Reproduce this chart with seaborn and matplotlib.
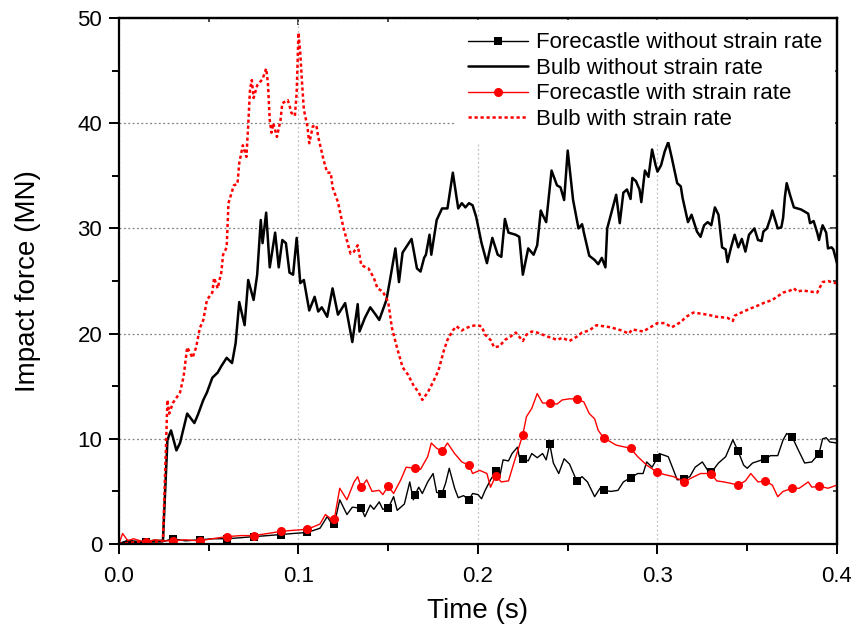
import numpy as np
import pandas as pd
import matplotlib
matplotlib.use("Agg")
import matplotlib.pyplot as plt
import seaborn as sns
from matplotlib.ticker import MultipleLocator

# --- data (time in s, force in MN) ---
# Forecastle without strain rate (black, squares every 0.015 s)
t_fw = [0.000, 0.002, 0.010, 0.015, 0.024, 0.030, 0.037, 0.045, 0.052, 0.060,
        0.068, 0.075, 0.083, 0.090, 0.097, 0.105, 0.112, 0.116, 0.119, 0.120,
        0.123, 0.127, 0.130, 0.135, 0.137, 0.140, 0.142, 0.145, 0.147, 0.150,
        0.153, 0.155, 0.159, 0.162, 0.164, 0.165, 0.167, 0.169, 0.172, 0.175,
        0.177, 0.180, 0.182, 0.184, 0.187, 0.189, 0.192, 0.195, 0.197, 0.200,
        0.202, 0.204, 0.207, 0.210, 0.212, 0.214, 0.217, 0.219, 0.222, 0.223,
        0.225, 0.228, 0.230, 0.233, 0.236, 0.238, 0.240, 0.242, 0.245, 0.248,
        0.251, 0.255, 0.258, 0.261, 0.265, 0.268, 0.270, 0.274, 0.278, 0.281,
        0.285, 0.289, 0.292, 0.294, 0.297, 0.300, 0.301, 0.306, 0.309, 0.311,
        0.315, 0.318, 0.321, 0.325, 0.328, 0.330, 0.334, 0.338, 0.342, 0.345,
        0.348, 0.350, 0.353, 0.360, 0.363, 0.367, 0.370, 0.372, 0.375, 0.378,
        0.382, 0.386, 0.390, 0.392, 0.394, 0.396, 0.400]
f_fw = [0.0, 0.1, 0.15, 0.2, 0.2, 0.5, 0.3, 0.4, 0.5, 0.5,
        0.6, 0.7, 0.8, 0.9, 1.0, 1.1, 1.5, 2.6, 1.8, 1.9,
        4.2, 2.8, 3.5, 3.4, 2.6, 3.7, 3.3, 4.0, 3.3, 3.4,
        4.5, 3.2, 3.8, 5.9, 4.2, 4.7, 5.4, 4.8, 5.9, 6.7,
        4.9, 4.8, 5.8, 7.2, 5.3, 4.4, 4.6, 4.2, 4.8, 4.7,
        4.3, 5.1, 6.1, 6.9, 6.3, 8.0, 7.9, 8.6, 9.2, 8.3,
        8.1, 7.9, 8.6, 8.2, 8.6, 8.0, 9.5, 7.7, 6.7, 8.1,
        7.6, 6.0, 6.4, 5.9, 4.5, 5.3, 5.1, 5.0, 5.1, 5.9,
        6.3, 6.7, 6.7, 7.8, 7.3, 8.2, 8.6, 8.3, 7.0, 6.1,
        6.2, 6.4, 7.3, 7.8, 7.0, 6.8, 7.7, 8.3, 9.9, 8.8,
        7.5, 7.2, 7.7, 8.1, 8.4, 8.4, 9.9, 10.5, 10.2, 9.1,
        7.7, 7.8, 8.6, 10.0, 10.1, 9.7, 9.6]

# Bulb without strain rate (black, thick)
t_bw = [0.000, 0.005, 0.010, 0.015, 0.020, 0.0245, 0.027, 0.029, 0.032, 0.034,
        0.038, 0.042, 0.044, 0.047, 0.049, 0.052, 0.055, 0.057, 0.060, 0.063,
        0.065, 0.067, 0.070, 0.072, 0.075, 0.077, 0.079, 0.080, 0.082, 0.084,
        0.087, 0.089, 0.091, 0.093, 0.095, 0.097, 0.099, 0.101, 0.103, 0.106,
        0.109, 0.111, 0.113, 0.116, 0.119, 0.122, 0.126, 0.130, 0.133, 0.134,
        0.137, 0.140, 0.143, 0.145, 0.149, 0.151, 0.154, 0.156, 0.158, 0.163,
        0.166, 0.168, 0.170, 0.171, 0.173, 0.174, 0.177, 0.180, 0.183, 0.186,
        0.189, 0.191, 0.193, 0.195, 0.197, 0.199, 0.202, 0.205, 0.208, 0.211,
        0.213, 0.215, 0.217, 0.221, 0.223, 0.225, 0.228, 0.231, 0.233, 0.235,
        0.236, 0.238, 0.241, 0.244, 0.246, 0.248, 0.250, 0.253, 0.256, 0.258,
        0.259, 0.262, 0.265, 0.267, 0.269, 0.271, 0.272, 0.277, 0.279, 0.281,
        0.283, 0.285, 0.286, 0.288, 0.290, 0.291, 0.293, 0.295, 0.297, 0.299,
        0.300, 0.302, 0.304, 0.306, 0.308, 0.311, 0.313, 0.314, 0.317, 0.319,
        0.322, 0.324, 0.326, 0.328, 0.330, 0.332, 0.334, 0.336, 0.338, 0.339,
        0.341, 0.343, 0.345, 0.347, 0.349, 0.351, 0.352, 0.354, 0.356, 0.358,
        0.359, 0.361, 0.363, 0.364, 0.367, 0.369, 0.370, 0.371, 0.372, 0.374,
        0.376, 0.378, 0.380, 0.382, 0.384, 0.385, 0.387, 0.389, 0.390, 0.392,
        0.394, 0.395, 0.397, 0.398, 0.400]
f_bw = [0.0, 0.3, 0.2, 0.2, 0.3, 0.3, 9.9, 10.8, 8.9, 9.6,
        12.4, 11.5, 12.3, 13.7, 14.4, 15.8, 16.3, 16.9, 17.7, 17.2,
        19.1, 23.0, 20.8, 25.1, 23.2, 25.6, 30.8, 28.6, 31.5, 26.3,
        29.6, 26.3, 28.9, 28.6, 25.8, 25.6, 29.1, 24.8, 25.1, 22.2,
        23.5, 22.1, 22.5, 21.6, 24.3, 21.8, 22.9, 19.2, 22.8, 20.2,
        21.5, 22.5, 21.8, 21.3, 23.2, 25.1, 28.1, 24.9, 27.7, 29.0,
        26.2, 25.9, 27.2, 27.5, 29.4, 27.5, 30.8, 31.9, 31.9, 35.3,
        31.9, 32.4, 32.0, 32.4, 32.2, 31.1, 28.6, 26.7, 29.1, 27.5,
        27.3, 30.9, 29.6, 29.4, 29.2, 25.6, 28.1, 27.5, 28.4, 31.7,
        31.3, 30.6, 35.5, 34.1, 33.9, 32.7, 37.4, 32.7, 30.0, 30.4,
        29.6, 27.4, 27.0, 26.6, 27.2, 26.3, 30.0, 33.2, 30.5, 33.4,
        33.7, 32.8, 34.8, 34.5, 33.7, 32.5, 35.5, 34.9, 37.5, 36.0,
        35.4, 36.0, 37.3, 38.2, 36.7, 34.3, 34.0, 32.9, 30.6, 31.3,
        29.7, 29.2, 30.3, 30.6, 30.3, 32.0, 31.3, 28.2, 28.0, 26.8,
        28.2, 29.4, 28.2, 29.0, 27.8, 29.4, 29.6, 30.0, 28.9, 28.8,
        29.7, 30.0, 31.0, 31.7, 30.0, 30.1, 31.0, 33.0, 34.3, 33.1,
        32.0, 31.9, 31.8, 31.6, 31.4, 30.5, 30.7, 29.6, 28.9, 30.3,
        29.6, 28.1, 28.2, 28.0, 26.7]

# Forecastle with strain rate (red, circles every 0.015 s)
t_fs = [0.000, 0.002, 0.005, 0.008, 0.012, 0.015, 0.020, 0.024, 0.030, 0.037,
        0.045, 0.052, 0.060, 0.068, 0.075, 0.083, 0.090, 0.097, 0.105, 0.112,
        0.115, 0.118, 0.120, 0.123, 0.127, 0.131, 0.133, 0.135, 0.138, 0.141,
        0.145, 0.147, 0.150, 0.153, 0.157, 0.160, 0.165, 0.168, 0.172, 0.174,
        0.177, 0.180, 0.183, 0.187, 0.191, 0.195, 0.197, 0.201, 0.205, 0.207,
        0.210, 0.213, 0.217, 0.220, 0.225, 0.227, 0.230, 0.233, 0.236, 0.240,
        0.244, 0.247, 0.251, 0.255, 0.259, 0.262, 0.265, 0.267, 0.270, 0.274,
        0.277, 0.285, 0.289, 0.294, 0.300, 0.304, 0.309, 0.315, 0.318, 0.324,
        0.330, 0.333, 0.337, 0.340, 0.345, 0.349, 0.352, 0.356, 0.360, 0.364,
        0.367, 0.370, 0.375, 0.379, 0.384, 0.386, 0.390, 0.395, 0.400]
f_fs = [0.0, 1.0, 0.3, 0.5, 0.3, 0.2, 0.4, 0.3, 0.3, 0.4,
        0.3, 0.5, 0.7, 0.8, 0.8, 1.0, 1.2, 1.3, 1.4, 1.9,
        2.8, 2.4, 2.4, 5.3, 4.2, 5.9, 6.4, 5.4, 6.1, 5.0,
        5.1, 4.7, 5.5, 4.8, 6.1, 7.3, 7.2, 7.1, 8.3, 9.6,
        9.1, 8.8, 9.6, 8.6, 7.8, 7.5, 6.7, 7.0, 6.7, 5.4,
        6.5, 5.9, 6.0, 7.7, 10.4, 12.1, 12.9, 14.3, 13.4, 13.4,
        13.3, 13.7, 13.8, 13.8, 13.5, 12.4, 11.9, 10.8, 10.1, 9.7,
        9.4, 9.1, 8.3, 7.5, 6.8, 6.6, 6.4, 5.9, 6.2, 6.7,
        6.7, 6.0, 5.9, 5.8, 5.6, 6.0, 6.7, 5.9, 6.0, 5.6,
        4.5, 5.0, 5.3, 5.3, 5.9, 5.4, 5.5, 5.3, 5.6]

# Bulb with strain rate (red, dotted)
t_bs = [0.000, 0.010, 0.020, 0.0245, 0.027, 0.028, 0.030, 0.034, 0.036, 0.038,
        0.041, 0.043, 0.045, 0.047, 0.049, 0.052, 0.053, 0.055, 0.057, 0.058,
        0.060, 0.061, 0.064, 0.066, 0.067, 0.069, 0.071, 0.072, 0.073, 0.074,
        0.075, 0.077, 0.080, 0.082, 0.083, 0.084, 0.085, 0.086, 0.088, 0.090,
        0.091, 0.094, 0.095, 0.096, 0.098, 0.099, 0.100, 0.101, 0.102, 0.103,
        0.105, 0.106, 0.108, 0.110, 0.111, 0.114, 0.116, 0.118, 0.119, 0.122,
        0.125, 0.129, 0.131, 0.133, 0.135, 0.139, 0.142, 0.144, 0.147, 0.150,
        0.152, 0.155, 0.158, 0.161, 0.164, 0.167, 0.169, 0.172, 0.175, 0.178,
        0.181, 0.183, 0.186, 0.188, 0.191, 0.193, 0.196, 0.199, 0.202, 0.204,
        0.207, 0.209, 0.212, 0.215, 0.218, 0.221, 0.222, 0.225, 0.227, 0.230,
        0.233, 0.236, 0.239, 0.241, 0.244, 0.247, 0.251, 0.255, 0.258, 0.262,
        0.266, 0.274, 0.280, 0.284, 0.286, 0.292, 0.296, 0.300, 0.304, 0.308,
        0.313, 0.316, 0.320, 0.324, 0.328, 0.333, 0.339, 0.342, 0.343, 0.348,
        0.352, 0.355, 0.359, 0.364, 0.370, 0.374, 0.376, 0.378, 0.381, 0.385,
        0.389, 0.392, 0.395, 0.399, 0.400]
f_bs = [0.0, 0.2, 0.2, 0.3, 13.7, 12.4, 13.4, 14.4, 15.9, 18.7,
        17.7, 18.7, 20.5, 21.3, 23.2, 23.9, 25.3, 24.3, 25.8, 27.5,
        28.2, 32.4, 34.1, 34.2, 36.2, 37.9, 36.8, 39.8, 43.2, 44.1,
        42.4, 43.6, 44.2, 45.2, 43.8, 40.3, 39.1, 40.0, 38.7, 40.3,
        41.9, 42.2, 41.7, 41.0, 40.7, 42.9, 48.6, 46.7, 43.8, 41.3,
        39.7, 38.1, 39.7, 39.8, 38.7, 36.5, 35.3, 35.3, 33.9, 32.5,
        30.1, 27.6, 27.8, 28.4, 26.5, 26.2, 25.3, 24.3, 24.0, 23.0,
        20.6, 18.6, 16.8, 16.1, 15.1, 14.4, 13.7, 14.4, 15.4, 16.5,
        18.4, 19.4, 20.3, 20.7, 20.3, 20.5, 20.7, 20.8, 20.7, 19.9,
        19.4, 18.7, 18.8, 19.4, 19.7, 20.1, 19.9, 19.3, 19.9, 20.2,
        20.1, 19.9, 19.7, 19.6, 19.4, 19.6, 19.3, 19.7, 20.1, 20.3,
        20.8, 20.6, 20.3, 20.0, 20.4, 20.2, 20.6, 21.0, 21.0, 20.6,
        21.1, 21.6, 22.0, 21.9, 21.8, 21.6, 21.5, 21.2, 21.7, 22.1,
        22.4, 22.6, 22.9, 23.2, 23.9, 24.1, 24.3, 24.0, 24.1, 24.0,
        23.9, 24.9, 25.0, 24.8, 24.9]

labels = ["Forecastle without strain rate", "Bulb without strain rate",
          "Forecastle with strain rate", "Bulb with strain rate"]


def marker_idx(t, step=0.015):
    t = np.asarray(t)
    k = t / step
    return list(np.where(np.isclose(k, np.round(k)) & (t > 0))[0])


sns.set_theme(style="white")
plt.rcParams['font.family'] = ['Liberation Sans', 'DejaVu Sans']
plt.rcParams['text.color'] = 'black'
plt.rcParams['axes.labelcolor'] = 'black'
plt.rcParams['axes.linewidth'] = 1.6

fig = plt.figure(figsize=(8.51, 6.35), dpi=100)
ax = fig.add_axes([0.1398, 0.1433, 0.8437, 0.8283])

# grid first so the lines sit on top of it
ax.set_axisbelow(True)
ax.yaxis.grid(True, linestyle=(0, (1.5, 2)), color='#808080', lw=0.9)
ax.xaxis.grid(True, linestyle=(0, (1.5, 2)), color='#c0c0c0', lw=0.9)

df_fw = pd.DataFrame({'t': t_fw, 'f': f_fw})
df_bw = pd.DataFrame({'t': t_bw, 'f': f_bw})
df_fs = pd.DataFrame({'t': t_fs, 'f': f_fs})
df_bs = pd.DataFrame({'t': t_bs, 'f': f_bs})

sns.lineplot(data=df_fw, x='t', y='f', ax=ax, sort=False, estimator=None,
             color='black', lw=1.0, marker='s', markersize=5.5, markeredgewidth=0,
             markevery=marker_idx(t_fw), label=labels[0])
sns.lineplot(data=df_bw, x='t', y='f', ax=ax, sort=False, estimator=None,
             color='black', lw=1.8, label=labels[1])
sns.lineplot(data=df_fs, x='t', y='f', ax=ax, sort=False, estimator=None,
             color='#ff0000', lw=1.0, marker='o', markersize=6.5, markeredgewidth=0,
             markevery=marker_idx(t_fs), label=labels[2])
sns.lineplot(data=df_bs, x='t', y='f', ax=ax, sort=False, estimator=None,
             color='#ff0000', lw=1.8, linestyle=(0, (1.3, 1.1)), label=labels[3])

ax.set_xlim(0, 0.4)
ax.set_ylim(0, 50)
ax.xaxis.set_major_locator(MultipleLocator(0.1))
ax.xaxis.set_minor_locator(MultipleLocator(0.05))
ax.yaxis.set_major_locator(MultipleLocator(10))
ax.yaxis.set_minor_locator(MultipleLocator(5))
ax.xaxis.set_major_formatter(matplotlib.ticker.FormatStrFormatter('%.1f'))

ax.tick_params(which='both', direction='out', color='black', width=1.4,
               bottom=True, left=True, top=False, right=False)
ax.tick_params(which='major', length=7)
ax.tick_params(which='minor', length=5)
ax.tick_params(axis='x', labelsize=16, pad=9, labelcolor='black')
ax.tick_params(axis='y', labelsize=16, pad=5, labelcolor='black')

# mirrored inward ticks on top and right
top = ax.secondary_xaxis('top')
top.xaxis.set_major_locator(MultipleLocator(0.1))
top.xaxis.set_minor_locator(MultipleLocator(0.05))
top.tick_params(which='both', direction='in', width=1.2, labeltop=False)
top.tick_params(which='major', length=5)
top.tick_params(which='minor', length=3)
right = ax.secondary_yaxis('right')
right.yaxis.set_major_locator(MultipleLocator(10))
right.yaxis.set_minor_locator(MultipleLocator(5))
right.tick_params(which='both', direction='in', width=1.2, labelright=False)
right.tick_params(which='major', length=5)
right.tick_params(which='minor', length=3)

for s in ax.spines.values():
    s.set_color('black')
    s.set_linewidth(1.6)

ax.set_xlabel('Time (s)', fontsize=20, labelpad=8, color='black')
ax.set_ylabel('Impact force (MN)', fontsize=20, labelpad=26, color='black')

leg = ax.legend(loc='upper right', fontsize=16, frameon=True, fancybox=False,
                edgecolor='none', facecolor='white', framealpha=1,
                handlelength=2.7, handletextpad=0.35, labelspacing=0.2,
                borderpad=0.55, borderaxespad=0.1)
leg.get_frame().set_linewidth(0)
for txt in leg.get_texts():
    txt.set_color('black')

fig.savefig('out.png', dpi=100)
